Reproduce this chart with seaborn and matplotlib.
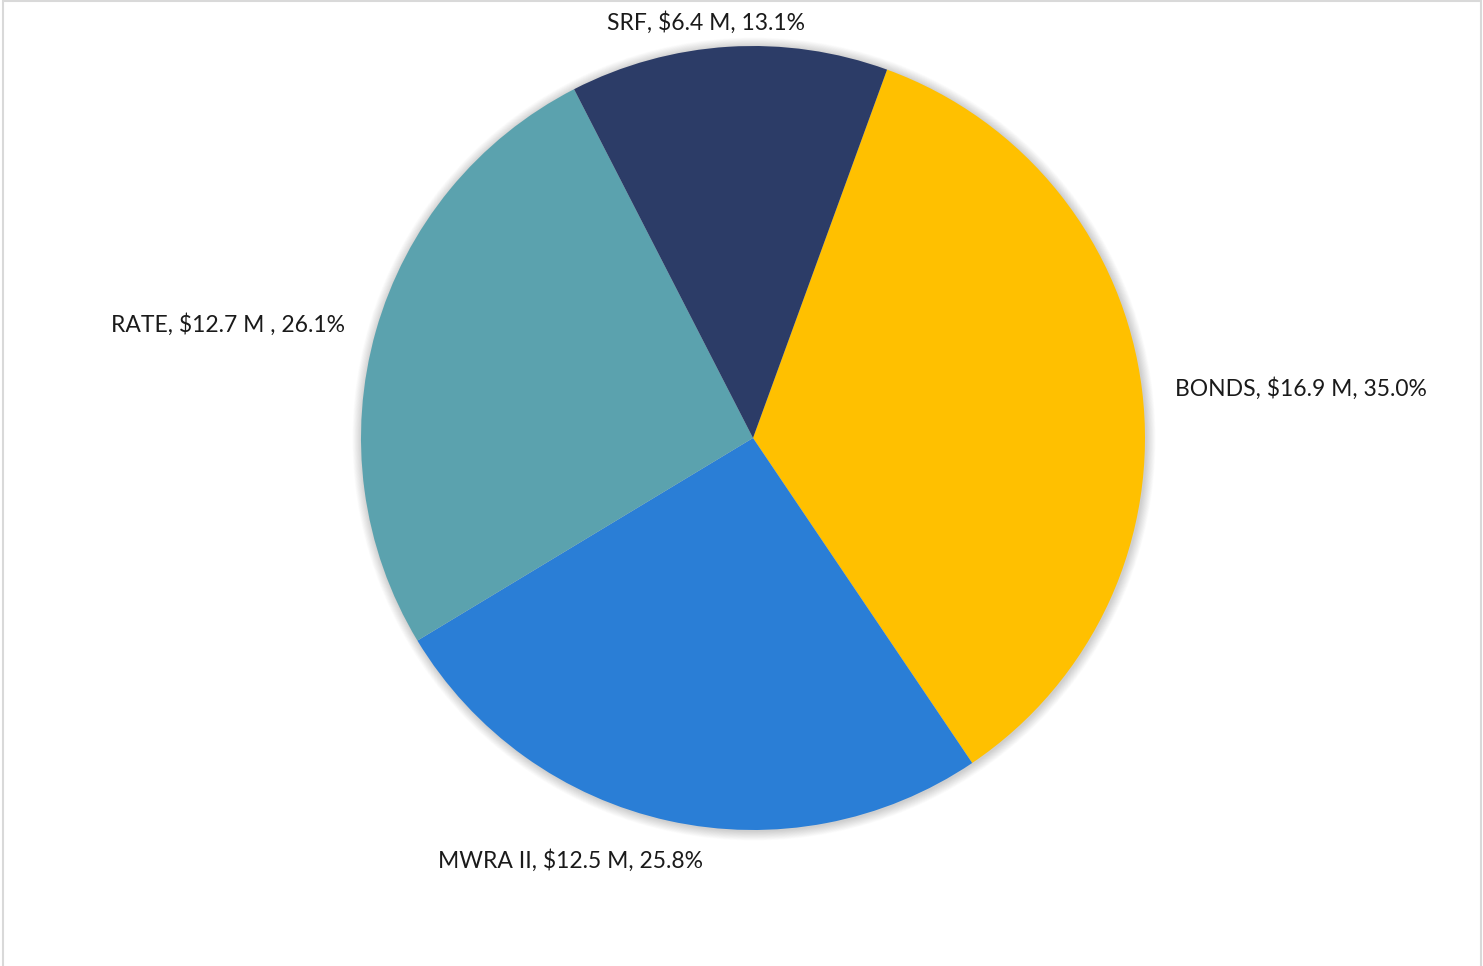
import matplotlib
matplotlib.use("Agg")
import matplotlib.pyplot as plt
import seaborn as sns
from matplotlib.patches import Circle, Rectangle

sns.set_theme(style="white")
plt.rcParams['font.family'] = ['Lato', 'DejaVu Sans']

# Funding sources
categories = ["BONDS", "MWRA II", "RATE", "SRF"]
amounts = ["$16.9 M", "$12.5 M", "$12.7 M ", "$6.4 M"]
shares = [35.0, 25.8, 26.1, 13.1]
colors = ["#FFC000", "#2A7ED6", "#5BA2AE", "#2C3C67"]

W, H = 1483, 966
fig = plt.figure(figsize=(W / 100, H / 100), dpi=100)
ax = fig.add_axes([0, 0, 1, 1])

cx, cy, r = 753, 528, 392

# soft outer shadow
for k in range(16):
    ax.add_patch(Circle((cx + 1, cy - 1), r + 0.6 * (16 - k), color="black",
                        alpha=0.012, lw=0, zorder=1))

ax.pie(shares, colors=colors, startangle=70, counterclock=False,
       center=(cx, cy), radius=r, frame=True,
       wedgeprops=dict(linewidth=0, zorder=2))
ax.set_xlim(0, W)
ax.set_ylim(0, H)
ax.set_aspect("equal")
ax.axis("off")

labels = [f"{c}, {a}, {s:.1f}%" for c, a, s in zip(categories, amounts, shares)]

fs = 16.5
tc = "#1a1a1a"
ax.text(1175, H - 389, labels[0], ha="left", va="center", fontsize=fs, color=tc)
ax.text(570, H - 861, labels[1], ha="center", va="center", fontsize=fs, color=tc)
ax.text(345, H - 325, labels[2], ha="right", va="center", fontsize=fs, color=tc)
ax.text(706, H - 23, labels[3], ha="center", va="center", fontsize=fs, color=tc)

# outer chart border
fig.patches.append(Rectangle((2.5 / W, -0.01), (1480.5 - 2.5) / W, 1 - 1.5 / H + 0.01,
                             transform=fig.transFigure, fill=False,
                             edgecolor="#D9D9D9", linewidth=1.5))

fig.savefig("out.png", dpi=100)
